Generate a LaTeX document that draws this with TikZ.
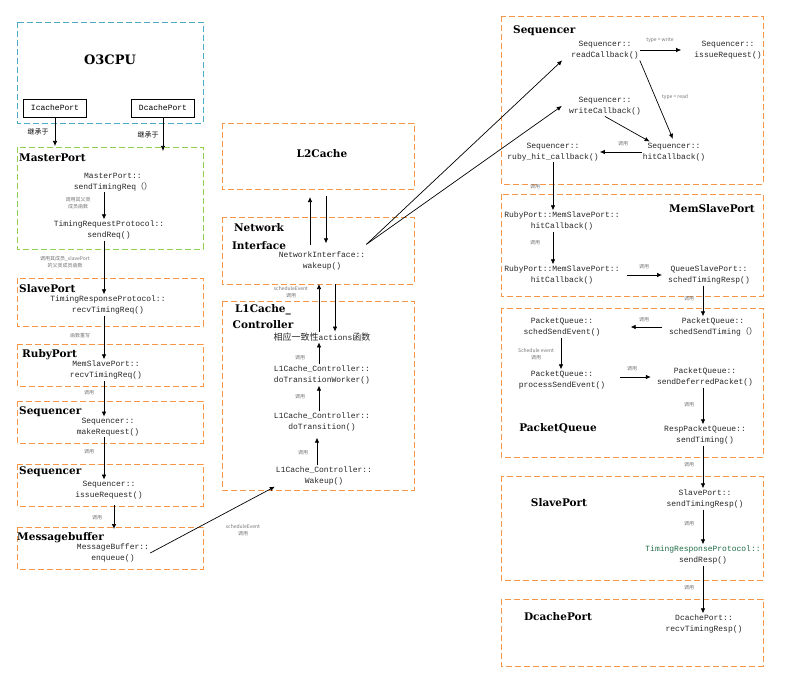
\documentclass[tikz,border=0pt]{standalone}
\usepackage{fontspec}
\setmainfont{DejaVu Serif}
\newfontfamily\codefont{Liberation Mono}
\newfontfamily\cjk{Noto Sans CJK SC}
\usepackage{tikz}
\usetikzlibrary{
  arrows.meta, positioning
}
\definecolor{dashorange}{HTML}{F79646}
\definecolor{dashcyan}{HTML}{4BACC6}
\definecolor{dashgreen}{HTML}{92D050}
\definecolor{protogreen}{HTML}{1E6B45}

\tikzset{
  grp/.style={draw=dashorange, line width=0.8pt, dash pattern=on 6pt off 3pt},
  ttl/.style={font=\bfseries\fontsize{10.5}{16}\selectfont, inner sep=0pt, align=center},
  fn/.style={font=\codefont\fontsize{8}{11.5}\selectfont, align=center, inner sep=1pt, text=black!85},
  lbl/.style={font=\cjk\fontsize{5}{6.5}\selectfont, text=black!55, align=center, inner sep=0pt},
  lblk/.style={font=\cjk\fontsize{7}{8}\selectfont, text=black, inner sep=0pt},
  arr/.style={-{Latex[length=5pt,width=4.5pt]}, line width=0.7pt},
  port/.style={draw, line width=0.7pt, minimum width=63pt, minimum height=18pt,
    inner sep=0pt, font=\codefont\fontsize{8}{10}\selectfont},
}

\begin{document}
\begin{tikzpicture}[x=1pt, y=-1pt]
  \useasboundingbox (0,0) rectangle (789,679);

  % left column: O3CPU -> Messagebuffer
  \draw[grp, draw=dashcyan] (17,22) rectangle (203,123);
  \node[ttl, font=\bfseries\fontsize{13}{15}\selectfont] (cpuTitle) at (110,60) {O3CPU};
  \node[port] (icache) at (55,108) {IcachePort};
  \node[port] (dcache) at (163,108) {DcachePort};
  \coordinate (icEnd) at (55,146);
  \coordinate (dcEnd) at (163,151);
  \draw[arr] (icache.south) -- (icEnd);
  \draw[arr] (dcache.south) -- (dcEnd);
  \node[lblk] (inhA) at (38,132) {继承于};
  \node[lblk] (inhB) at (148,135) {继承于};

  \draw[grp, draw=dashgreen] (17,147) rectangle (203,249);
  \node[ttl, anchor=base west] (mpTitle) at (19,162) {MasterPort};
  \node[fn] (mpSend) at (113,182) {MasterPort::\\sendTimingReq{\cjk （）}};
  \node[lbl] (lblParent) at (78,203) {调用其父类\\成员函数};
  \node[fn] (trpSend) at (109,230) {TimingRequestProtocol::\\sendReq()};
  \node[lbl] (lblSlave) at (65,262) {调用其成员\_slavePort\\的父类成员函数};

  \draw[grp] (17,278) rectangle (203,326);
  \node[ttl, anchor=base west] (spTitle) at (19,292) {SlavePort};
  \node[fn] (trpRecv) at (108,305) {TimingResponseProtocol::\\recvTimingReq()};
  \node[lbl] (lblOverride) at (80,336) {函数重写};

  \draw[grp] (17,344) rectangle (203,386);
  \node[ttl, anchor=base west] (rpTitle) at (22,357) {RubyPort};
  \node[fn] (mspRecv) at (106,370) {MemSlavePort::\\recvTimingReq()};

  \draw[grp] (17,401) rectangle (203,443);
  \node[ttl, anchor=base west] (seqTitleA) at (19,414) {Sequencer};
  \node[fn] (seqMake) at (108,427) {Sequencer::\\makeRequest()};

  \draw[grp] (17,464) rectangle (203,506);
  \node[ttl, anchor=base west] (seqTitleB) at (19,474) {Sequencer};
  \node[fn] (seqIssueL) at (109,490) {Sequencer::\\issueRequest()};

  \draw[grp] (17,527) rectangle (203,569);
  \node[ttl, anchor=base west] (mbTitle) at (17,540) {Messagebuffer};
  \node[fn] (mbEnq) at (113,553) {MessageBuffer::\\enqueue()};
  \node[lbl] (lblSched) at (243,530) {scheduleEvent\\调用};

  \coordinate (xA) at (104,0);
  \coordinate (xB) at (114,0);
  \coordinate (mbEnd) at (114,529);
  \draw[arr] (mpSend.south -| xA) -- (trpSend.north -| xA);
  \draw[arr] (trpSend.south -| xA) -- (trpRecv.north -| xA);
  \draw[arr] (trpRecv.south -| xA) -- (mspRecv.north -| xA);
  \draw[arr] (mspRecv.south -| xA) -- (seqMake.north -| xA);
  \draw[arr] (seqMake.south -| xA) -- (seqIssueL.north -| xA);
  \draw[arr, shorten <=5pt] (seqIssueL.south -| xB) -- (mbEnd);

  % middle column: L2Cache, Network Interface, L1Cache_Controller
  \draw[grp] (222,123) rectangle (414,189);
  \node[ttl] (l2Title) at (322,154) {L2Cache};
  \coordinate (l2S) at (318,189);

  \draw[grp] (222,217) rectangle (414,284);
  \node[ttl, font=\bfseries\fontsize{10.5}{18}\selectfont] (niTitle) at (259,237) {Network\\Interface};
  \node[fn] (niWake) at (322,261) {NetworkInterface::\\wakeup()};
  \coordinate (niS) at (318,284);
  \coordinate (niOut) at ([yshift=6pt]niWake.north east);

  \coordinate (xN1) at (310,0);
  \coordinate (xN2) at (326,0);
  \draw[arr, shorten <=5pt, shorten >=8pt] (niWake.north -| xN1) -- (l2S -| xN1);
  \draw[arr, shorten <=7pt, shorten >=7pt] (l2S -| xN2) -- (niWake.north -| xN2);

  \draw[grp] (222,301) rectangle (414,490);
  \node[ttl] (l1Title) at (263,317) {L1Cache\_\\Controller};
  \node[fn] (act) at (322,337) {{\cjk\fontsize{9}{11}\selectfont 相应一致性}actions{\cjk\fontsize{9}{11}\selectfont 函数}};
  \node[fn] (l1Worker) at (322,375) {L1Cache\_Controller::\\doTransitionWorker()};
  \node[fn] (l1Trans) at (322,422) {L1Cache\_Controller::\\doTransition()};
  \node[fn] (l1Wake) at (324,476) {L1Cache\_Controller::\\Wakeup()};
  \node[lbl] (lblNi) at (291,292) {scheduleEvent\\调用};

  \coordinate (xM) at (319,0);
  \coordinate (xM2) at (317,0);
  \coordinate (xM3) at (335,0);
  \draw[arr] (act.north -| xM) -- (niS -| xM);
  \draw[arr] (niS -| xM3) -- (act.north -| xM3);
  \draw[arr] (l1Worker.north -| xM) -- (act.south -| xM);
  \draw[arr] (l1Trans.north -| xM) -- (l1Worker.south -| xM);
  \draw[arr, shorten >=5pt] (l1Wake.north -| xM2) -- (l1Trans.south -| xM2);

  \draw[arr] (mbEnq.east) -- (l1Wake.south west);

  % right column: callbacks back to DcachePort
  \draw[grp] (501,16) rectangle (763,184);
  \node[ttl, anchor=base west] (seqTitleR) at (513,34) {Sequencer};
  \node[fn] (seqRead) at (605,50) {Sequencer::\\readCallback()};
  \node[fn] (seqIssueR) at (728,50) {Sequencer::\\issueRequest()};
  \node[fn] (seqWrite) at (605,106) {Sequencer::\\writeCallback()};
  \node[fn] (seqHit) at (674,152) {Sequencer::\\hitCallback()};
  \node[fn] (seqRuby) at (553,152) {Sequencer::\\ruby\_hit\_callback()};
  \node[lbl] (lblWrite) at (660,40) {type = write};
  \node[lbl] (lblRead) at (675,97) {type = read};

  \draw[arr] (niOut) -- ([xshift=-8pt]seqRead.south west);
  \draw[arr] (niOut) -- ([xshift=-6pt]seqWrite.west);
  \draw[arr, shorten >=12pt] (seqRead.east) -- (seqIssueR.west);
  \draw[arr, shorten >=3pt] (seqRead.south east) -- (seqHit.north);
  \draw[arr] (seqWrite.south) -- ([xshift=8pt]seqHit.north west);
  \draw[arr] (seqHit.west) -- (seqRuby.east);

  \draw[grp] (501,194) rectangle (763,296);
  \node[ttl] (mspTitle) at (712,209) {MemSlavePort};
  \node[fn] (rpHitA) at (562,221) {RubyPort::MemSlavePort::\\hitCallback()};
  \node[fn] (rpHitB) at (562,275) {RubyPort::MemSlavePort::\\hitCallback()};
  \node[fn] (qspSched) at (709,275) {QueueSlavePort::\\schedTimingResp()};

  \draw[grp] (501,308) rectangle (763,457);
  \node[ttl] (pqTitle) at (558,428) {PacketQueue};
  \node[fn] (pqSendTiming) at (713,327) {PacketQueue::\\schedSendTiming{\cjk （）}};
  \node[fn] (pqSchedEvent) at (562,327) {PacketQueue::\\schedSendEvent()};
  \node[fn] (pqProcess) at (562,380) {PacketQueue::\\processSendEvent()};
  \node[fn] (pqDeferred) at (705,377) {PacketQueue::\\sendDeferredPacket()};
  \node[fn] (rpqSend) at (705,435) {RespPacketQueue::\\sendTiming()};
  \node[lbl] (lblEvent) at (536,354) {Schedule event\\调用};

  \draw[grp] (501,476) rectangle (763,580);
  \node[ttl] (spTitleR) at (559,503) {SlavePort};
  \node[fn] (spSend) at (705,499) {SlavePort::\\sendTimingResp()};
  \node[fn] (trpResp) at (703,555) {{\color{protogreen}TimingResponseProtocol::}\\sendResp()};

  \draw[grp] (501,599) rectangle (763,666);
  \node[ttl] (dcTitle) at (558,617) {DcachePort};
  \node[fn] (dcRecv) at (704,624) {DcachePort::\\recvTimingResp()};

  \coordinate (xR) at (553,0);
  \coordinate (xP) at (561,0);
  \coordinate (xQ) at (703,0);
  \draw[arr] (seqRuby.south -| xR) -- (rpHitA.north -| xR);
  \draw[arr] (rpHitA.south -| xR) -- (rpHitB.north -| xR);
  \draw[arr, shorten <=6pt, shorten >=5pt] (rpHitB.east) -- (qspSched.west);
  \draw[arr] (qspSched.south -| xQ) -- (pqSendTiming.north -| xQ);
  \draw[arr, shorten <=6pt, shorten >=29pt] (pqSendTiming.west) -- (pqSchedEvent.east);
  \draw[arr] (pqSchedEvent.south -| xP) -- (pqProcess.north -| xP);
  \draw[arr, shorten <=14pt, shorten >=5pt] (pqProcess.east |- pqDeferred.west) -- (pqDeferred.west);
  \draw[arr] (pqDeferred.south -| xQ) -- (rpqSend.north -| xQ);
  \draw[arr] (rpqSend.south -| xQ) -- (spSend.north -| xQ);
  \draw[arr] (spSend.south -| xQ) -- (trpResp.north -| xQ);
  \draw[arr] (trpResp.south -| xQ) -- (dcRecv.north -| xQ);

  % small "call" labels
  \foreach \x/\y [count=\i] in {89/393, 89/452, 97/518, 300/358, 300/397, 303/453,
      623/144, 535/187, 535/243, 644/267, 689/299, 644/320, 632/369,
      689/405, 689/465, 689/524, 689/588} {
    \node[lbl] (call\i) at (\x,\y) {调用};
  }
\end{tikzpicture}
\end{document}
